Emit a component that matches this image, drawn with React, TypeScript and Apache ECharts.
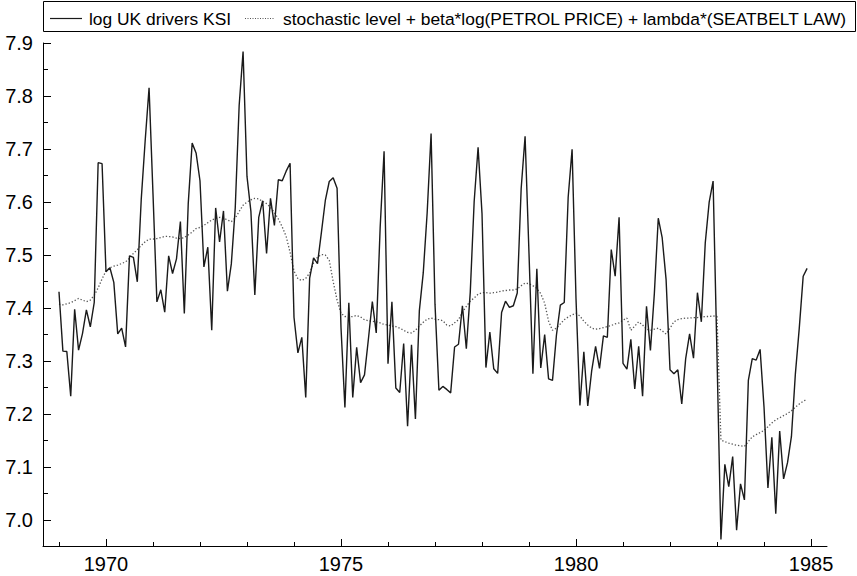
import React, { useEffect, useRef } from "react";
import * as echarts from "echarts";

// Monthly observations, Jan 1969 .. Dec 1984
const startYear = 1969;
const seriesNames = [
  "log UK drivers KSI",
  "stochastic level + beta*log(PETROL PRICE) + lambda*(SEATBELT LAW)",
];

const ksiLog = [
  // 1969
  7.4307, 7.3186, 7.3179, 7.2335, 7.3976, 7.3206, 7.3518, 7.3964, 7.3646, 7.4104, 7.6742, 7.6723,
  // 1970
  7.4686, 7.476, 7.4484, 7.3512, 7.3621, 7.3265, 7.4984, 7.4955, 7.4495, 7.6049, 7.7152, 7.8153,
  // 1971
  7.6158, 7.4116, 7.4343, 7.3921, 7.4984, 7.4651, 7.4928, 7.5632, 7.3896, 7.5969, 7.7111, 7.6926,
  // 1972
  7.6401, 7.4776, 7.5148, 7.3582, 7.5888, 7.5246, 7.5832, 7.4319, 7.4832, 7.5888, 7.782, 7.8838,
  // 1973
  7.6483, 7.5822, 7.4248, 7.571, 7.6024, 7.5028, 7.6069, 7.5559, 7.642, 7.6401, 7.6582, 7.6732,
  // 1974
  7.3826, 7.3153, 7.3447, 7.2313, 7.4565, 7.4945, 7.4838, 7.5428, 7.6029, 7.6387, 7.6459, 7.6261,
  // 1975
  7.3633, 7.2123, 7.4097, 7.2313, 7.3258, 7.2592, 7.2738, 7.3415, 7.4122, 7.3531, 7.5522, 7.6958,
  // 1976
  7.2951, 7.4116, 7.2492, 7.2406, 7.333, 7.177, 7.3304, 7.1907, 7.3945, 7.4662, 7.5797, 7.7293,
  // 1977
  7.4073, 7.2449, 7.2521, 7.2464, 7.2399, 7.3265, 7.3317, 7.4043, 7.3232, 7.4295, 7.6009, 7.7031,
  // 1978
  7.5786, 7.2876, 7.3544, 7.2855, 7.2766, 7.3914, 7.4128, 7.4012, 7.4043, 7.4283, 7.6256, 7.724,
  // 1979
  7.5028, 7.2759, 7.4742, 7.2869, 7.3499, 7.2662, 7.2634, 7.3486, 7.4055, 7.4104, 7.6089, 7.6994,
  // 1980
  7.4176, 7.216, 7.3172, 7.2152, 7.2814, 7.3278, 7.2862, 7.3473, 7.3447, 7.5104, 7.4599, 7.571,
  // 1981
  7.2957, 7.2848, 7.3408, 7.2471, 7.3278, 7.2335, 7.4031, 7.3199, 7.4271, 7.5694, 7.5326, 7.4535,
  // 1982
  7.2834, 7.2759, 7.2834, 7.2189, 7.3045, 7.3512, 7.3052, 7.4289, 7.374, 7.5229, 7.5999, 7.6396,
  // 1983
  7.3092, 6.9632, 7.105, 7.0631, 7.1196, 6.981, 7.0682, 7.0379, 7.2634, 7.3045, 7.3018, 7.3219,
  // 1984
  7.2131, 7.0605, 7.1562, 7.0121, 7.1678, 7.0775, 7.1083, 7.1577, 7.2752, 7.3621, 7.4599, 7.4748,
];

const levelFit = [
  // 1969
  7.407, 7.406, 7.408, 7.41, 7.414, 7.418, 7.415, 7.412, 7.415, 7.424, 7.438, 7.455,
  // 1970
  7.47, 7.476, 7.479, 7.481, 7.484, 7.487, 7.494, 7.503, 7.51, 7.518, 7.525, 7.53,
  // 1971
  7.53, 7.531, 7.533, 7.535, 7.535, 7.534, 7.532, 7.531, 7.533, 7.538, 7.543, 7.55,
  // 1972
  7.552, 7.556, 7.561, 7.566, 7.569, 7.571, 7.57, 7.566, 7.563, 7.57, 7.582, 7.594,
  // 1973
  7.6, 7.604, 7.607, 7.606, 7.601, 7.597, 7.59, 7.58, 7.568, 7.553, 7.535, 7.505,
  // 1974
  7.47, 7.455, 7.452, 7.456, 7.466, 7.485, 7.496, 7.501, 7.5, 7.49, 7.45, 7.415,
  // 1975
  7.39, 7.384, 7.383, 7.384, 7.386, 7.383, 7.378, 7.376, 7.375, 7.374, 7.372, 7.369,
  // 1976
  7.368, 7.366, 7.365, 7.362, 7.358, 7.354, 7.353, 7.358, 7.366, 7.373, 7.379, 7.381,
  // 1977
  7.379, 7.378, 7.376, 7.368, 7.366, 7.372, 7.378, 7.392, 7.403, 7.413, 7.419, 7.426,
  // 1978
  7.429, 7.429, 7.428, 7.429, 7.43, 7.432, 7.433, 7.434, 7.434, 7.436, 7.442, 7.447,
  // 1979
  7.446, 7.442, 7.437, 7.427, 7.409, 7.375, 7.358, 7.362, 7.37, 7.378, 7.383, 7.387,
  // 1980
  7.39, 7.385, 7.375, 7.368, 7.362, 7.36, 7.361, 7.363, 7.365, 7.367, 7.37, 7.372,
  // 1981
  7.377, 7.381, 7.358, 7.366, 7.374, 7.368, 7.36, 7.358, 7.36, 7.362, 7.357, 7.351,
  // 1982
  7.362, 7.374, 7.378, 7.38, 7.381, 7.381, 7.382, 7.382, 7.383, 7.384, 7.384, 7.385,
  // 1983
  7.384, 7.151, 7.148, 7.145, 7.143, 7.141, 7.14, 7.139, 7.148, 7.157, 7.161, 7.165,
  // 1984
  7.169, 7.176, 7.183, 7.189, 7.193, 7.197, 7.201, 7.206, 7.213, 7.219, 7.224, 7.228,
];

const xMajorTicks = [1970, 1975, 1980, 1985];
const xMinorTicks = [1969, 1971, 1972, 1973, 1974, 1976, 1977, 1978, 1979, 1981, 1982, 1983, 1984];
const yMajorTicks = [7.0, 7.1, 7.2, 7.3, 7.4, 7.5, 7.6, 7.7, 7.8, 7.9];
const yMinorTicks = [7.05, 7.15, 7.25, 7.35, 7.45, 7.55, 7.65, 7.75, 7.85];

const FONT = "'Liberation Sans', Arial, Helvetica, sans-serif";

export default function App() {
  const ref = useRef<HTMLDivElement>(null);

  useEffect(() => {
    if (!ref.current) return;
    const chart = echarts.init(ref.current, undefined, { renderer: "svg" });
    const toPairs = (arr: number[]) => arr.map((v, i) => [startYear + i / 12, v]);

    const xBase = {
      type: "value" as const,
      min: 1968.66,
      max: 1985.34,
      position: "bottom" as const,
      splitLine: { show: false },
    };
    const yBase = {
      type: "value" as const,
      min: 6.951,
      max: 7.9,
      position: "left" as const,
      splitLine: { show: false },
    };

    chart.setOption({
      animation: false,
      backgroundColor: "#fff",
      grid: { left: 43, right: 30, top: 43, bottom: 30, containLabel: false },
      xAxis: [
        {
          ...xBase,
          axisLine: { show: true, lineStyle: { color: "#000", width: 1 } },
          axisTick: {
            show: true,
            inside: true,
            length: 7,
            customValues: xMajorTicks,
            lineStyle: { color: "#000", width: 1 },
          },
          axisLabel: {
            show: true,
            customValues: xMajorTicks,
            formatter: (v: number) => String(Math.round(v)),
            fontSize: 20,
            fontFamily: FONT,
            color: "#000",
            margin: 8,
          },
        },
        {
          ...xBase,
          axisLine: { show: false },
          axisTick: {
            show: true,
            inside: true,
            length: 4,
            customValues: xMinorTicks,
            lineStyle: { color: "#000", width: 1 },
          },
          axisLabel: { show: false },
        },
      ],
      yAxis: [
        {
          ...yBase,
          axisLine: { show: true, lineStyle: { color: "#000", width: 1 } },
          axisTick: {
            show: true,
            inside: true,
            length: 8,
            customValues: yMajorTicks,
            lineStyle: { color: "#000", width: 1 },
          },
          axisLabel: {
            show: true,
            customValues: yMajorTicks,
            formatter: (v: number) => v.toFixed(1),
            fontSize: 20,
            fontFamily: FONT,
            color: "#000",
            margin: 10,
          },
        },
        {
          ...yBase,
          axisLine: { show: false },
          axisTick: {
            show: true,
            inside: true,
            length: 5,
            customValues: yMinorTicks,
            lineStyle: { color: "#000", width: 1 },
          },
          axisLabel: { show: false },
        },
      ],
      series: [
        {
          name: seriesNames[1],
          type: "line",
          data: toPairs(levelFit),
          xAxisIndex: 0,
          yAxisIndex: 0,
          symbol: "none",
          lineStyle: { color: "#555", width: 1.3, type: [1.3, 2] },
          z: 2,
        },
        {
          name: seriesNames[0],
          type: "line",
          data: toPairs(ksiLog),
          xAxisIndex: 0,
          yAxisIndex: 0,
          symbol: "none",
          lineStyle: { color: "#1a1a1a", width: 1.4 },
          z: 3,
        },
      ],
      graphic: [
        {
          type: "rect",
          shape: { x: 43.5, y: 1.5, width: 812, height: 30 },
          style: { fill: "#fff", stroke: "#000", lineWidth: 1 },
          z: 10,
        },
        {
          type: "line",
          shape: { x1: 50, y1: 18.5, x2: 82, y2: 18.5 },
          style: { stroke: "#1a1a1a", lineWidth: 1.2 },
          z: 11,
        },
        {
          type: "text",
          x: 89,
          y: 19,
          style: {
            text: seriesNames[0],
            fontSize: 17.4,
            fontFamily: FONT,
            fill: "#000",
            verticalAlign: "middle",
            align: "left",
          },
          z: 11,
        },
        {
          type: "line",
          shape: { x1: 245, y1: 18.5, x2: 274, y2: 18.5 },
          style: { stroke: "#555", lineWidth: 1, lineDash: [1, 1.5] },
          z: 11,
        },
        {
          type: "text",
          x: 283,
          y: 19,
          style: {
            text: seriesNames[1],
            fontSize: 17.4,
            fontFamily: FONT,
            fill: "#000",
            verticalAlign: "middle",
            align: "left",
          },
          z: 11,
        },
      ],
    });

    return () => chart.dispose();
  }, []);

  return <div ref={ref} style={{ width: 857, height: 576, position: "absolute", left: 0, top: 0 }} />;
}
